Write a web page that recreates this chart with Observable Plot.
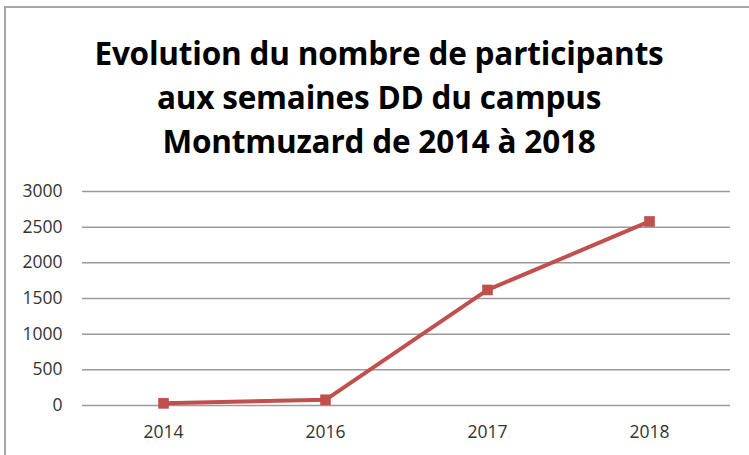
<!DOCTYPE html>
<html>
<head>
<meta charset="utf-8">
<script src="https://cdn.jsdelivr.net/npm/d3@7"></script>
<script src="https://cdn.jsdelivr.net/npm/@observablehq/plot@0.6"></script>
<style>
  html, body { margin: 0; padding: 0; background: #fff; }
  #wrap { position: relative; width: 749px; height: 455px; overflow: hidden; background: #fff; }
  #frame { position: absolute; left: 4px; top: 6px; width: 800px; height: 500px; border: 2px solid #a6a6a6; box-sizing: border-box; }
  #title { position: absolute; left: 0; top: 31px; width: 758px; text-align: center;
           font-family: "Open Sans", sans-serif; font-weight: bold; font-size: 31.5px; line-height: 44px; color: #000; letter-spacing: -0.2px; }
  #chart { position: absolute; left: 0; top: 0; }
</style>
</head>
<body>
<div id="wrap">
  <div id="frame"></div>
  <div id="chart"></div>
  <div id="title">Evolution du nombre de participants<br>aux semaines DD du campus<br>Montmuzard de 2014 à 2018</div>
</div>
<script>
const years = ["2014", "2016", "2017", "2018"];
const participants = [30, 80, 1620, 2580];
const yTicks = [0, 500, 1000, 1500, 2000, 2500, 3000];

const data = years.map((y, i) => ({year: y, value: participants[i]}));

const chart = Plot.plot({
  width: 749,
  height: 455,
  marginTop: 191,
  marginBottom: 50,
  marginLeft: 82,
  marginRight: 19,
  style: {fontFamily: "Open Sans, sans-serif", fontSize: "17.5px", color: "#333", background: "transparent"},
  x: {type: "point", domain: years, padding: 0.5, label: null},
  y: {domain: [0, 3000], ticks: yTicks, label: null},
  marks: [
    Plot.ruleY(yTicks, {stroke: "#9a9a9a", strokeWidth: 1.5}),
    Plot.axisY({ticks: yTicks, tickFormat: d3.format("d"), tickSize: 0, tickPadding: 20, label: null, fill: "#333"}),
    Plot.axisX({tickSize: 0, tickPadding: 20, label: null, fill: "#333"}),
    Plot.line(data, {x: "year", y: "value", stroke: "#C0504D", strokeWidth: 4}),
    Plot.dot(data, {x: "year", y: "value", symbol: "square", r: 6, fill: "#C0504D", stroke: "none"})
  ]
});
document.getElementById("chart").appendChild(chart);
</script>
</body>
</html>
